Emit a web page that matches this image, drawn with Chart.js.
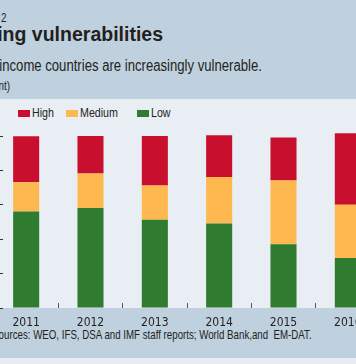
<!DOCTYPE html>
<html>
<head>
<meta charset="utf-8">
<script src="https://cdn.jsdelivr.net/npm/chart.js@4/dist/chart.umd.min.js"></script>
<style>
  html, body { margin:0; padding:0; }
  body { width:356px; height:364px; overflow:hidden; position:relative; background:#e6ecf2;
         font-family:"Liberation Sans",Arial,sans-serif; color:#231f20; }
  .band { position:absolute; left:0; width:356px; }
  .t { position:absolute; white-space:pre; line-height:1; }
  .nr { transform:scaleX(0.82); transform-origin:100% 50%; }
  #chartWrap { position:absolute; left:-46px; top:98px; width:426px; height:240px; }
  .lgbox { position:absolute; top:110px; width:12px; height:7px; }
  .lgtxt { position:absolute; top:105.5px; font-size:13px; line-height:1; white-space:pre; color:#231f20;
           transform:scaleX(0.82); transform-origin:0 50%; }
</style>
</head>
<body>
<div class="band" style="top:0;height:99px;background:#bfd0de;"></div>
<div class="band" style="top:99px;height:209px;background:#e9eef5;"></div>
<div class="band" style="top:308px;height:50px;background:#bfd0de;"></div>

<div class="t nr" style="right:350px;top:12px;font-size:12px;">Chart 2</div>
<div class="t" style="right:193px;top:24.5px;font-size:19.5px;font-weight:bold;">Rising vulnerabilities</div>
<div class="t nr" style="right:94px;top:57.5px;font-size:16px;">Low-income countries are increasingly vulnerable.</div>
<div class="t nr" style="right:346px;top:80px;font-size:12px;">(percent)</div>
<div class="t nr" style="right:44px;top:330px;font-size:11.85px;">Sources: WEO, IFS, DSA and IMF staff reports; World Bank,and  EM-DAT.</div>

<div id="legend"></div>
<div id="chartWrap"><canvas id="c" width="426" height="240"></canvas></div>

<script>
// ---- data ----
const categories = ['2011', '2012', '2013', '2014', '2015', '2016'];
const lowValues    = [56.1, 58.1, 51.3, 49.1, 37.0, 29.1];
const mediumValues = [17.1, 20.1, 19.9, 27.1, 37.1, 31.0];
const highValues   = [26.7, 21.8, 28.8, 24.2, 25.1, 41.5];
const seriesNames  = ['Low', 'Medium', 'High'];
const yTickValues  = [0, 20, 40, 60, 80, 100];

// ---- styles ----
const seriesColors = { Low: '#2f7b30', Medium: '#fdb94f', High: '#c8102e' };
const legendOrder = ['High', 'Medium', 'Low'];
const legendBoxX = { High: 18, Medium: 66, Low: 137 };

const seriesValues = { Low: lowValues, Medium: mediumValues, High: highValues };

const datasets = seriesNames.map(name => ({
  label: name,
  data: seriesValues[name],
  backgroundColor: seriesColors[name],
  borderWidth: 0,
  barPercentage: 0.405,
  categoryPercentage: 1.0,
  clip: false
}));

// HTML legend built from the series
const lg = document.getElementById('legend');
legendOrder.forEach(name => {
  const b = document.createElement('div');
  b.className = 'lgbox';
  b.style.left = legendBoxX[name] + 'px';
  b.style.background = seriesColors[name];
  lg.appendChild(b);
  const t = document.createElement('div');
  t.className = 'lgtxt';
  t.style.left = (legendBoxX[name] + 14) + 'px';
  t.textContent = name;
  lg.appendChild(t);
});

const fontFam = '"DejaVu Sans Condensed","Liberation Sans",sans-serif';

new Chart(document.getElementById('c'), {
  type: 'bar',
  data: { labels: categories, datasets: datasets },
  options: {
    responsive: false,
    animation: false,
    devicePixelRatio: 1,
    layout: { padding: { top: 38, left: 0, right: 0, bottom: 0 } },
    plugins: { legend: { display: false }, tooltip: { enabled: false }, title: { display: false } },
    scales: {
      x: {
        stacked: true,
        afterFit: s => { s.height = 30; },
        border: { display: false },
        grid: { offset: true, drawOnChartArea: false, drawTicks: true, tickLength: -5, color: '#555', lineWidth: 1 },
        ticks: { color: '#231f20', font: { family: fontFam, size: 12 }, padding: 13, maxRotation: 0 }
      },
      y: {
        stacked: true,
        min: 0,
        max: 100,
        afterFit: s => { s.width = 40; },
        afterBuildTicks: s => { s.ticks = yTickValues.map(v => ({ value: v })); },
        border: { display: false },
        grid: { drawOnChartArea: false, drawTicks: true, tickLength: -9, color: '#333', lineWidth: 1 },
        ticks: { color: '#231f20', font: { family: fontFam, size: 12 }, padding: 22 }
      }
    }
  }
});
</script>
</body>
</html>
